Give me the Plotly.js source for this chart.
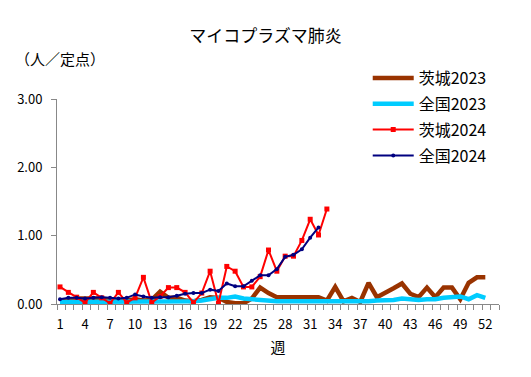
<!DOCTYPE html>
<html>
<head>
<meta charset="utf-8">
<script src="https://cdn.plot.ly/plotly-3.0.1.min.js"></script>
<style>html,body{margin:0;padding:0;background:#fff;}#chart{width:531px;height:377px;}</style>
</head>
<body>
<div id="chart"></div>
<script>
const weeks = Array.from({length: 52}, (_, i) => i + 1);
const tickWeeks = [1,4,7,10,13,16,19,22,25,28,31,34,37,40,43,46,49,52];
const seriesNames = ['茨城2023', '全国2023', '茨城2024', '全国2024'];

const ibaraki2023 = [0.03,0.06,0.08,0.08,0.08,0.08,0.06,0.06,0.05,0.07,0.05,0.06,0.18,0.09,0.09,0.05,0.04,0.06,0.10,0.09,0.03,0.01,0.01,0.08,0.24,0.16,0.10,0.10,0.10,0.10,0.10,0.10,0.05,0.25,0.04,0.09,0.03,0.31,0.10,0.16,0.23,0.30,0.15,0.10,0.24,0.10,0.24,0.24,0.07,0.31,0.39,0.39];
const zenkoku2023 = [0.03,0.03,0.03,0.03,0.04,0.04,0.04,0.04,0.04,0.04,0.04,0.04,0.04,0.04,0.04,0.04,0.04,0.05,0.07,0.09,0.09,0.11,0.08,0.07,0.05,0.04,0.04,0.04,0.04,0.04,0.04,0.04,0.03,0.03,0.03,0.03,0.04,0.04,0.05,0.05,0.06,0.08,0.07,0.06,0.07,0.07,0.09,0.10,0.11,0.07,0.13,0.09];
const ibaraki2024 = [0.25,0.17,0.10,0.02,0.17,0.09,0.01,0.17,0.02,0.09,0.39,0.02,0.11,0.24,0.24,0.17,0.02,0.16,0.48,0.01,0.55,0.48,0.25,0.25,0.40,0.79,0.48,0.70,0.70,0.93,1.24,1.01,1.39];
const zenkoku2024 = [0.07,0.09,0.09,0.08,0.09,0.10,0.09,0.08,0.09,0.14,0.11,0.09,0.10,0.10,0.12,0.15,0.16,0.16,0.21,0.19,0.30,0.26,0.26,0.34,0.42,0.42,0.51,0.69,0.72,0.80,0.97,1.12];

const FONT = '"MS Gothic", "Noto Sans CJK JP", "DejaVu Sans", sans-serif';

const traces = [
  {x: weeks.slice(0, ibaraki2023.length), y: ibaraki2023, name: seriesNames[0], legendgroup: 'a', mode: 'lines',
   line: {color: '#993300', width: 4.5}},
  {x: weeks.slice(0, zenkoku2023.length), y: zenkoku2023, name: seriesNames[1], legendgroup: 'b', mode: 'lines',
   line: {color: '#00CCFF', width: 4.5}},
  {x: weeks.slice(0, ibaraki2024.length), y: ibaraki2024, name: seriesNames[2], legendgroup: 'c', mode: 'lines+markers',
   line: {color: '#FF0000', width: 2}, marker: {symbol: 'square', size: 5, color: '#FF0000'}},
  {x: weeks.slice(0, zenkoku2024.length), y: zenkoku2024, name: seriesNames[3], legendgroup: 'd', mode: 'lines+markers',
   line: {color: '#000080', width: 2}, marker: {symbol: 'circle', size: 4, color: '#000080'}}
];

const layout = {
  width: 531, height: 377,
  margin: {l: 57, r: 32, t: 99, b: 73},
  paper_bgcolor: '#fff', plot_bgcolor: '#fff',
  font: {family: FONT, size: 13, color: '#000'},
  showlegend: true,
  title: {text: 'マイコプラズマ肺炎', font: {family: FONT, size: 17, color: '#000'},
          x: 0.5, xanchor: 'center', y: 0.905, yanchor: 'middle', yref: 'container'},
  xaxis: {
    range: [0.64, 53.64], showgrid: false, zeroline: false,
    showline: true, linecolor: '#888', linewidth: 1,
    tickmode: 'array', tickvals: tickWeeks, ticktext: tickWeeks.map(String),
    ticks: '', ticklabelstandoff: 8,
    minor: {tickmode: 'linear', tick0: 0.64, dtick: 1, ticks: 'outside', ticklen: 5, tickcolor: '#888', showgrid: false},
    tickfont: {family: FONT, size: 13},
    title: {text: '週', font: {family: FONT, size: 15}, standoff: 10}
  },
  yaxis: {
    range: [0, 3], dtick: 1, tickformat: '.2f', showgrid: false, zeroline: false,
    showline: true, linecolor: '#888', linewidth: 1,
    ticks: 'outside', ticklen: 5, tickcolor: '#888', ticklabelstandoff: 6,
    tickfont: {family: FONT, size: 13}
  },
  legend: {
    x: 0.703, xanchor: 'left', y: 1.185, yanchor: 'top',
    traceorder: 'grouped', tracegroupgap: 2, itemwidth: 41,
    bgcolor: 'rgba(0,0,0,0)', font: {family: FONT, size: 16}
  },
  annotations: [
    {text: '（人／定点）', xref: 'paper', yref: 'paper', x: -0.1, y: 1.2, xanchor: 'left', yanchor: 'middle',
     showarrow: false, font: {family: FONT, size: 15}}
  ]
};

Plotly.newPlot('chart', traces, layout, {displayModeBar: false, staticPlot: true});
</script>
</body>
</html>
